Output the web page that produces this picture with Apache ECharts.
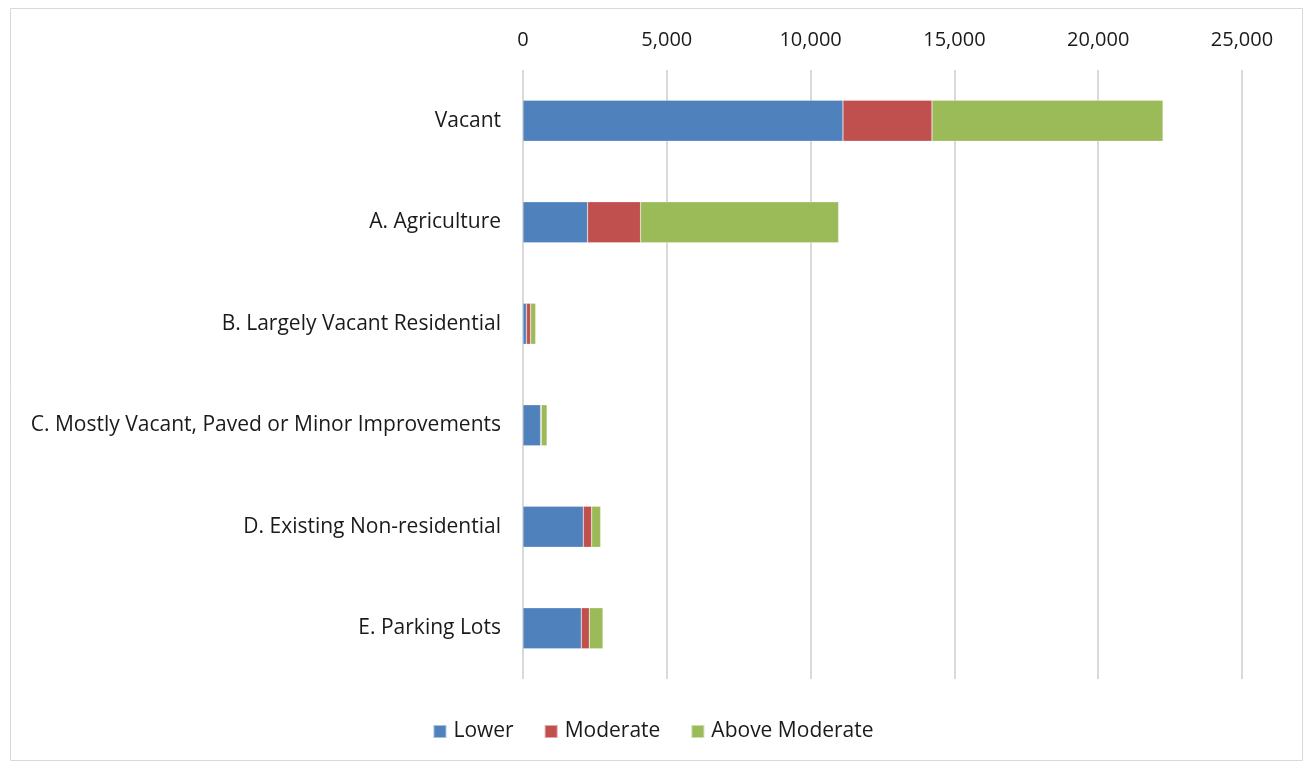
<!DOCTYPE html>
<html><head><meta charset="utf-8">
<script src="https://cdn.jsdelivr.net/npm/echarts@6/dist/echarts.min.js"></script>
<style>html,body{margin:0;padding:0;background:#fff}#c{width:1306px;height:765px}</style>
</head><body><div id="c"></div>
<script>
const categories = ["Vacant","A. Agriculture","B. Largely Vacant Residential","C. Mostly Vacant, Paved or Minor Improvements","D. Existing Non-residential","E. Parking Lots"];
const lower = [11126, 2246, 120, 612, 2097, 2027];
const moderate = [3095, 1843, 145, 25, 290, 278];
const aboveModerate = [8032, 6885, 175, 200, 313, 476];
const seriesNames = ["Lower","Moderate","Above Moderate"];
const colors = ["#4f81bd","#c0504d","#9bbb59"];
const FONT = "Open Sans";
const chart = echarts.init(document.getElementById('c'));
const vals = [lower, moderate, aboveModerate];
chart.setOption({
  animation:false,
  textStyle:{fontFamily:FONT},
  graphic:[{type:'rect',shape:{x:10.5,y:8.5,width:1292,height:752},style:{fill:'none',stroke:'#d9d9d9',lineWidth:1},silent:true}],
  grid:{left:523,right:64,top:70,bottom:86,containLabel:false},
  legend:{bottom:18,left:'center',itemWidth:13,itemHeight:13,itemGap:30,icon:'rect',
    textStyle:{fontFamily:FONT,fontSize:21,color:'#1a1a1a',padding:[0,0,0,2]},data:seriesNames},
  xAxis:{type:'value',position:'top',min:0,max:25000,interval:5000,
    axisLine:{show:false},axisTick:{show:false},
    axisLabel:{fontFamily:FONT,fontSize:20,color:'#1a1a1a',margin:20,
      formatter:v=>v.toLocaleString('en-US')},
    splitLine:{lineStyle:{color:'#d9d9d9',width:2}}},
  yAxis:{type:'category',inverse:true,data:categories,
    axisLine:{show:false},axisTick:{show:false},
    axisLabel:{fontFamily:FONT,fontSize:21,color:'#1a1a1a',margin:22}},
  series:vals.map((d,i)=>({name:seriesNames[i],type:'bar',stack:'t',data:d,barWidth:41,
    itemStyle:{color:colors[i],borderColor:'rgba(255,255,255,0.5)',borderWidth:0.5}}))
});
</script></body></html>
